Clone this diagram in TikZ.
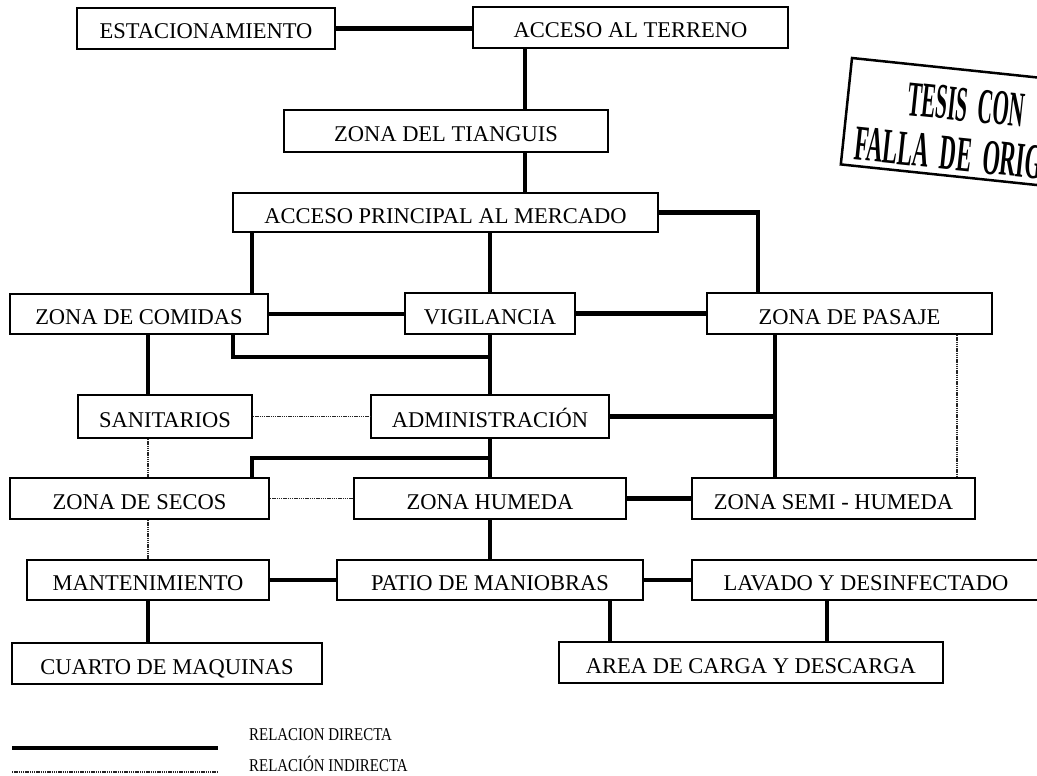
\documentclass[tikz,border=0pt]{standalone}
\usepackage{fontspec}
\setmainfont{Liberation Serif}
\usetikzlibrary{calc}
\begin{document}
\begin{tikzpicture}[x=1pt,y=-1pt,
  box/.style={draw, line width=1.8pt, inner sep=0pt, text height=21pt, text depth=0pt,
              font=\fontsize{22.5}{24}\selectfont},
  direct/.style={line width=4.5pt},
  indirect/.style={line width=1.4pt, black!85, dash pattern=on 1.4pt off 0.8pt},
  leg/.style={anchor=base west, inner sep=0pt, font=\fontsize{18}{20}\selectfont},
  stamptext/.style={anchor=base west, inner sep=0pt, transform shape}]
\useasboundingbox (0,0) rectangle (1037,776);
\clip (0,0) rectangle (1037,776);

% boxes
\node[box, minimum width=258pt, minimum height=41pt] (est)  at (206,28.5)   {ESTACIONAMIENTO};
\node[box, minimum width=315pt, minimum height=41pt] (terr) at (630.5,27.5) {ACCESO AL TERRENO};
\node[box, minimum width=324pt, minimum height=42pt] (tian) at (446,131)    {ZONA DEL TIANGUIS};
\node[box, minimum width=425pt, minimum height=39pt] (princ) at (445.5,212.5) {ACCESO PRINCIPAL AL MERCADO};
\node[box, minimum width=258pt, minimum height=40pt] (com)  at (139,314)    {ZONA DE COMIDAS};
\node[box, minimum width=170pt, minimum height=41pt] (vig)  at (490,313.5)  {VIGILANCIA};
\node[box, minimum width=285pt, minimum height=41pt] (pas)  at (849.5,313.5) {ZONA DE PASAJE};
\node[box, minimum width=174pt, minimum height=43pt] (san)  at (165,416.5)  {SANITARIOS};
\node[box, minimum width=238pt, minimum height=43pt] (adm)  at (490,416.5)  {ADMINISTRACIÓN};
\node[box, minimum width=259pt, minimum height=41pt] (sec)  at (139.5,498.5) {ZONA DE SECOS};
\node[box, minimum width=272pt, minimum height=41pt] (hum)  at (490,498.5)  {ZONA HUMEDA};
\node[box, minimum width=283pt, minimum height=41pt] (semi) at (833.5,498.5) {ZONA SEMI - HUMEDA};
\node[box, minimum width=242pt, minimum height=40pt] (mant) at (148,580)    {MANTENIMIENTO};
\node[box, minimum width=306pt, minimum height=40pt] (pat)  at (490,580)    {PATIO DE MANIOBRAS};
\node[box, minimum width=348pt, minimum height=40pt] (lav)  at (866,580)    {LAVADO Y DESINFECTADO};
\node[box, minimum width=384pt, minimum height=41pt] (car)  at (751,662.5)  {AREA DE CARGA Y DESCARGA};
\node[box, minimum width=310pt, minimum height=41pt] (cua)  at (167,663.5)  {CUARTO DE MAQUINAS};

% helper coordinates
\coordinate (xT) at (525,0);
\coordinate (xC) at (252,0);
\coordinate (xP) at (758,0);
\coordinate (xS) at (148,0);
\coordinate (xR) at (775,0);
\coordinate (xD) at (957,0);
\coordinate (xL) at (610,0);
\coordinate (xW) at (827,0);
\coordinate (jA) at (233,357);
\coordinate (jB) at (490,357);
\coordinate (jC) at (490,458);
\coordinate (jD) at (252,458);

% direct relations
\draw[direct] (est.east) -- (est.east -| terr.west);
\draw[direct] (terr.south -| xT) -- (tian.north -| xT);
\draw[direct] (tian.south -| xT) -- (princ.north -| xT);
\draw[direct] (princ.south -| xC) -- (com.north -| xC);
\draw[direct] (princ.south -| vig.north) -- (vig.north);
\draw[direct] (princ.east) -| (pas.north -| xP);
\draw[direct] (com.east) -- (com.east -| vig.west);
\draw[direct] (vig.east) -- (vig.east -| pas.west);
\draw[direct] (com.south -| jA) -- (jA) -- (jB);
\draw[direct] (vig.south) -- (adm.north);
\draw[direct] (com.south -| xS) -- (san.north -| xS);
\draw[direct] (adm.east) -- (adm.east -| xR);
\draw[direct] (pas.south -| xR) -- (semi.north -| xR);
\draw[direct] (adm.south) -- (hum.north);
\draw[direct] (jC) -- (jD) -- (sec.north -| jD);
\draw[direct] (hum.east) -- (hum.east -| semi.west);
\draw[direct] (hum.south) -- (pat.north);
\draw[direct] (mant.east) -- (mant.east -| pat.west);
\draw[direct] (pat.east) -- (pat.east -| lav.west);
\draw[direct] (mant.south -| xS) -- (cua.north -| xS);
\draw[direct] (pat.south -| xL) -- (car.north -| xL);
\draw[direct] (lav.south -| xW) -- (car.north -| xW);

% indirect relations
\draw[indirect] (san.east) -- (san.east -| adm.west);
\draw[indirect] (san.south -| xS) -- (sec.north -| xS);
\draw[indirect] (sec.south -| xS) -- (mant.north -| xS);
\draw[indirect] (sec.east) -- (sec.east -| hum.west);
\draw[indirect] (pas.south -| xD) -- (semi.north -| xD);

% legend
\coordinate (l1a) at (12,748);
\coordinate (l1b) at (218,748);
\coordinate (l2a) at (12,772);
\coordinate (l2b) at (218,772);
\draw[direct] (l1a) -- (l1b);
\draw[indirect] (l2a) -- (l2b);
\node[leg] (t1) at (249,740) {\scalebox{0.83}[1]{RELACION DIRECTA}};
\node[leg] (t2) at (249,771) {\scalebox{0.83}[1]{RELACIÓN INDIRECTA}};

% stamp
\begin{scope}[shift={(852,58)}, rotate=-6]
  \draw[line width=2.5pt] (300,0) -- (0,0) -- (0,107) -- (300,107);
  \node[stamptext] (s1) at (60,51)
    {\scalebox{0.42}[1]{\fontsize{50}{50}\selectfont\bfseries TESIS\ \ CON}};
  \node[stamptext] (s2) at (12,101)
    {\scalebox{0.45}[1]{\fontsize{50}{50}\selectfont\bfseries FALLA\ \ DE\ \ ORIGEN}};
\end{scope}
\end{tikzpicture}
\end{document}
